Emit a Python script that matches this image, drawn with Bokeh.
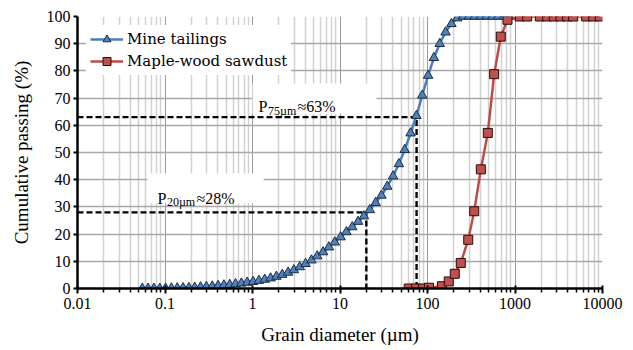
from bokeh.plotting import figure
from bokeh.models import (FixedTicker, Legend, LegendItem, Label, BoxAnnotation,
                          Range1d)
from bokeh.embed import file_html
from bokeh.resources import INLINE

# ---- data ----
mine_size = [0.055, 0.0641, 0.0747, 0.0871, 0.1016, 0.1184, 0.138, 0.1609, 0.1876,
             0.2188, 0.2551, 0.2973, 0.3467, 0.4042, 0.4713, 0.5495, 0.6406, 0.7469,
             0.871, 1.0155, 1.184, 1.38, 1.609, 1.876, 2.188, 2.551, 2.974, 3.467,
             4.043, 4.713, 5.495, 6.407, 7.47, 8.71, 10.155, 11.84, 13.8, 16.09,
             18.76, 21.88, 25.51, 29.74, 34.67, 40.43, 47.13, 54.95, 64.07, 74.7,
             87.1, 101.55, 118.4, 138.0, 160.9, 187.6, 218.8, 255.1, 297.4, 346.7,
             404.3, 471.3, 549.5, 640.7, 747.0, 871.0]
mine_pass = [0, 0, 0, 0, 0.05, 0.1, 0.15, 0.2,
             0.25, 0.35, 0.5, 0.65, 0.8, 1.0, 1.2, 1.4, 1.65, 1.9, 2.2, 2.5,
             2.9, 3.3, 3.8, 4.4, 5.1, 5.9, 6.8, 7.9, 9.1, 10.4,
             11.9, 13.4, 15.2, 17.0, 18.9, 20.8, 22.6, 24.6, 26.6, 28.9,
             31.5, 34.2, 37.5, 41.3, 45.8, 51.0, 57.1, 63.5, 71.0, 78.3,
             84.8, 90.0, 94.2, 97.3, 99.4,
             100, 100, 100, 100, 100, 100, 100, 100, 100]
saw_size = [61, 74, 89, 104, 146, 175, 205, 240, 292, 342, 407, 489, 578, 688, 821,
            1135, 1378, 1920, 2333, 2775, 3311, 3946, 4624, 6507, 7830, 9310]
saw_pass = [0, 0, 0, 0.3, 0.85, 2.6, 5.4, 9.4, 17.9, 28.4, 43.8, 57.2, 78.8, 92.6,
            98.8, 100, 100, 100, 100, 100, 100, 100, 100, 100, 100, 100]
p_size = [20, 75]
p_pass = [28, 63]
p_sub = ["20\u00b5m", "75\u00b5m"]
p_rest = ["\u224828%", "\u224863%"]
x_ticks = [0.01, 0.1, 1, 10, 100, 1000, 10000]
x_tick_labels = ["0.01", "0.1", "1", "10", "100", "1000", "10000"]
y_ticks = [0, 10, 20, 30, 40, 50, 60, 70, 80, 90, 100]

SERIF = "Liberation Serif"

p = figure(width=633, height=350, x_axis_type="log",
           x_range=Range1d(x_ticks[0], x_ticks[-1]), y_range=Range1d(0, 100),
           output_backend="svg", toolbar_location=None,
           min_border_left=77, min_border_right=31, min_border_top=16,
           min_border_bottom=62)
p.outline_line_color = None
p.background_fill_color = "white"

minor = [m * d for d in x_ticks[:-1] for m in range(2, 10)]
xt = FixedTicker(ticks=x_ticks, minor_ticks=minor)
p.xaxis.ticker = xt
p.xgrid.ticker = xt
p.yaxis.ticker = FixedTicker(ticks=y_ticks)
p.ygrid.ticker = FixedTicker(ticks=y_ticks)
p.xaxis.major_label_overrides = {t: l for t, l in zip(x_ticks, x_tick_labels)}

p.xgrid.grid_line_color = "#9a9a9a"
p.xgrid.grid_line_width = 1
p.xgrid.minor_grid_line_color = "#d2d2d2"
p.xgrid.minor_grid_line_width = 1.5
p.ygrid.grid_line_color = "#a8a8a8"
p.ygrid.grid_line_width = 1.5

for ax in (p.xaxis, p.yaxis):
    ax.axis_line_color = "black"
    ax.axis_line_width = 2.5
    ax.major_tick_line_color = "black"
    ax.major_tick_line_width = 2
    ax.minor_tick_line_color = "black"
    ax.minor_tick_line_width = 1.5
    ax.major_label_text_font = SERIF
    ax.major_label_text_font_size = "16px"
    ax.major_label_text_color = "black"
    ax.axis_label_text_font = SERIF
    ax.axis_label_text_font_size = "19px"
    ax.axis_label_text_font_style = "normal"
    ax.axis_label_text_color = "black"

p.xaxis.major_tick_in = 3
p.xaxis.major_tick_out = 5
p.xaxis.minor_tick_in = 0
p.xaxis.minor_tick_out = 4
p.xaxis.major_label_standoff = 4
p.xaxis.axis_label_standoff = 12
p.xaxis.axis_label = "Grain diameter (\u00b5m)"

p.yaxis.major_tick_in = 0
p.yaxis.major_tick_out = 4
p.yaxis.minor_tick_in = 0
p.yaxis.minor_tick_out = 0
p.yaxis.major_label_standoff = 3
p.yaxis.axis_label_standoff = 12
p.yaxis.axis_label = "Cumulative passing (%)"

# dashed guide lines
for s, v in zip(p_size, p_pass):
    p.line([x_ticks[0], s, s], [v, v, 0], line_color="black", line_width=2.4,
           line_dash="6 3")

blue, blue_dark = "#4A7EBB", "#1c2c40"
red, red_dark = "#BE4B48", "#2a0a0a"
l1 = p.line(mine_size, mine_pass, line_color=blue, line_width=2.5)
s1 = p.scatter(mine_size, mine_pass, marker="triangle", size=9.5,
               fill_color="#4F81BD", line_color=blue_dark, line_width=1)
l2 = p.line(saw_size, saw_pass, line_color=red, line_width=2.5)
s2 = p.scatter(saw_size, saw_pass, marker="square", size=9,
               fill_color="#C0504D", line_color=red_dark, line_width=1)

# annotation boxes
p.add_layout(BoxAnnotation(left=1.0, right=26.2, bottom=64.3, top=75.4,
                           fill_color="white", fill_alpha=1, line_alpha=0))
p.add_layout(BoxAnnotation(left=0.063, right=1.34, bottom=31.3, top=42.3,
                           fill_color="white", fill_alpha=1, line_alpha=0))

anchors = [(0.082, 33.2), (1.171, 66.9)]
for (ax_, ay_), sub, rest in zip(anchors, p_sub, p_rest):
    p.add_layout(Label(x=ax_, y=ay_, text="P", text_font=SERIF,
                       text_font_size="16px", text_color="black",
                       text_baseline="alphabetic"))
    p.add_layout(Label(x=ax_, y=ay_, x_offset=9.5, y_offset=-4, text=sub,
                       text_font=SERIF, text_font_size="12px", text_color="black",
                       text_baseline="alphabetic"))
    p.add_layout(Label(x=ax_, y=ay_, x_offset=39, text=rest, text_font=SERIF,
                       text_font_size="16px", text_color="black",
                       text_baseline="alphabetic"))

legend = Legend(items=[LegendItem(label="Mine tailings", renderers=[l1, s1]),
                       LegendItem(label="Maple-wood sawdust", renderers=[l2, s2])],
                location=(9, 213), margin=0, padding=4, spacing=2,
                glyph_width=33, glyph_height=20, label_height=20,
                label_standoff=4, label_text_font="DejaVu Serif",
                label_text_font_size="15px", label_text_color="black",
                background_fill_color="white", background_fill_alpha=1,
                border_line_alpha=0)
p.add_layout(legend)

open("out.html", "w").write(file_html(p, INLINE))
